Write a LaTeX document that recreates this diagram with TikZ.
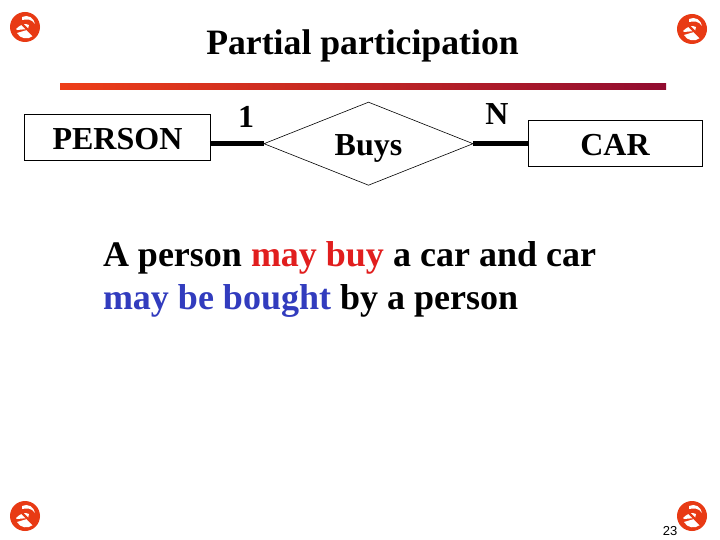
\documentclass[tikz,border=0pt]{standalone}
\usepackage{fontspec}
\setmainfont{Liberation Serif}
\setsansfont{Liberation Sans}
\usetikzlibrary{shapes.geometric}
\definecolor{rulea}{RGB}{238,62,24}
\definecolor{ruleb}{RGB}{145,12,48}
\definecolor{logored}{RGB}{232,58,20}
\definecolor{mayred}{RGB}{225,30,30}
\definecolor{mayblue}{RGB}{50,60,190}
\tikzset{
  x=1pt,y=-1pt,
  every node/.style={inner sep=0,outer sep=0},
  titletext/.style={font=\fontsize{35.7}{36}\selectfont\bfseries,anchor=base},
  bodytext/.style={font=\fontsize{36}{42}\selectfont\bfseries,anchor=base west},
  ertext/.style={font=\fontsize{32}{32}\selectfont\bfseries,anchor=base},
  entitybox/.style={draw=black,line width=1pt,minimum height=46pt},
  relbox/.style={draw=black,line width=0.6pt,diamond,aspect=2.5,minimum width=209pt,minimum height=83pt},
  link/.style={line width=5pt,draw=black},
  logo/.pic={
    \fill[logored] (0,0) circle[radius=15];
    \fill[white] (-9,2) .. controls (-4,-3) and (0,-4) .. (4,-2) -- (3,2) -- (-8,3) -- cycle;
    \fill[white] (-3,-10) .. controls (3,-13) and (9,-9) .. (10,-3) .. controls (7,-8) and (2,-8) .. (-3,-7) -- cycle;
    \fill[white] (-8,6) -- (2,3) -- (8,9) .. controls (3,13) and (-5,12) .. (-8,6) -- cycle;
    \draw[logored,line width=2.4pt] (-10,-10) -- (10,10);
  }
}
\begin{document}
\begin{tikzpicture}
\useasboundingbox (0,0) rectangle (720,540);
\fill[white] (0,0) rectangle (720,540);
\shade[left color=rulea,right color=ruleb,shading angle=90] (60,84) rectangle (666,90);
\node[titletext] (title) at (362.5,54.5) {Partial participation};
\node[entitybox,minimum width=186pt] (person) at (117.5,137.5) {};
\node[ertext] (persont) at (117.5,149.5) {PERSON};
\node[entitybox,minimum width=174pt] (car) at (615,143.5) {};
\node[ertext] (cart) at (615,155.5) {CAR};
\node[relbox] (buys) at (368.5,143.7) {};
\node[ertext] (buyst) at (368.5,155.5) {Buys};
\coordinate (pe) at (person.east |- buys.west);
\coordinate (ce) at (car.west |- buys.east);
\draw[link] (pe) -- (buys.west);
\draw[link] (buys.east) -- (ce);
\node[ertext] (one) at (246,127.5) {1};
\node[ertext] (en) at (497,124.5) {N};
\node[bodytext] (l1) at (103,266) {A person \textcolor{mayred}{may buy} a car and car};
\node[bodytext] (l2) at (103,309) {\textcolor{mayblue}{may be bought} by a person};
\node[font=\sffamily\fontsize{13}{13}\selectfont,anchor=base] (pg) at (670,535) {23};
\pic at (25,27) {logo};
\pic at (692,29) {logo};
\pic at (25,516) {logo};
\pic at (692,516) {logo};
\end{tikzpicture}
\end{document}
